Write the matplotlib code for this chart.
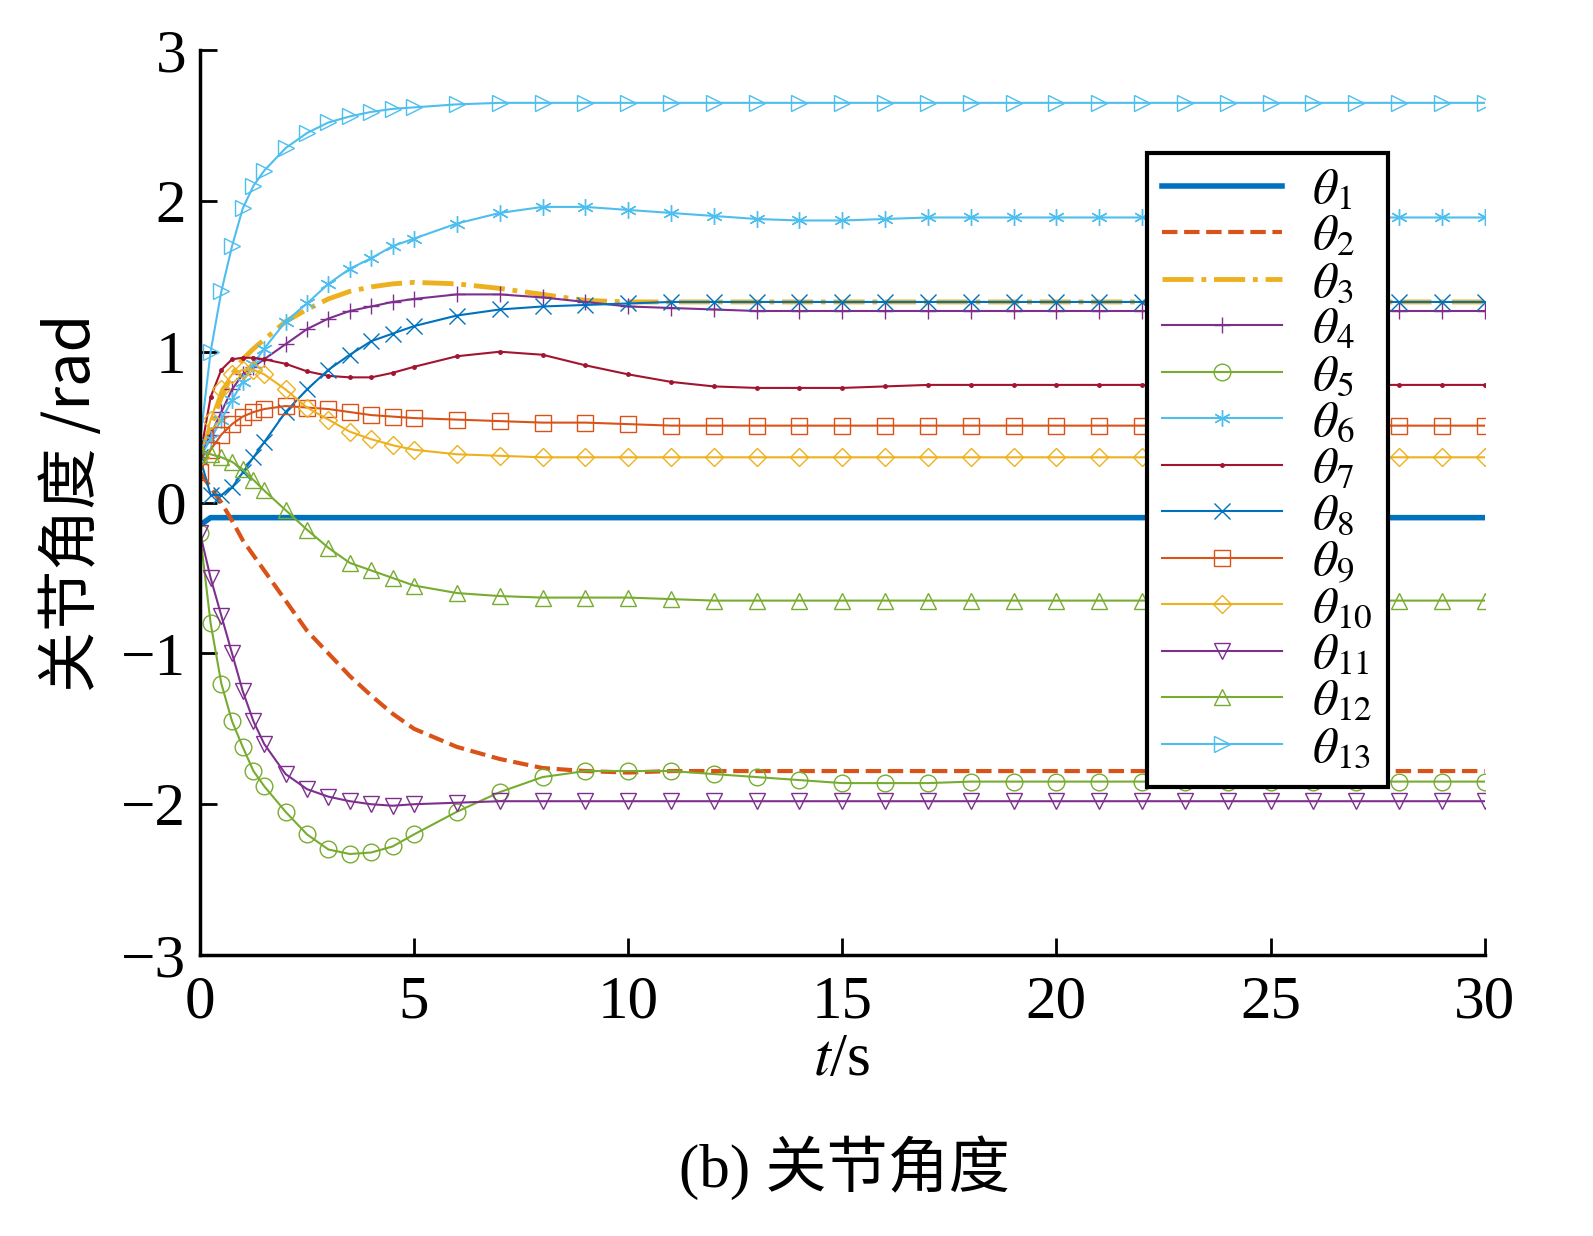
import matplotlib.pyplot as plt
import numpy as np

plt.rcParams['font.family'] = ['Liberation Serif', 'Noto Sans CJK SC']
plt.rcParams['mathtext.fontset'] = 'stix'

# common time grid
T = [0, 0.25, 0.5, 0.75, 1, 1.25, 1.5, 2, 2.5, 3, 3.5, 4, 4.5, 5] + list(range(6, 31))
n_tail = len(T)

def tail(vals, v):
    return vals + [v] * (n_tail - len(vals))

th1 = tail([-0.15], -0.1)
th2 = tail([0.2, 0.1, 0.0, -0.12, -0.25, -0.35, -0.45, -0.65, -0.85, -1.0, -1.15, -1.28, -1.4, -1.5,
            -1.62, -1.7, -1.76, -1.78, -1.79], -1.78)
th3 = tail([0.3, 0.5, 0.7, 0.85, 0.95, 1.02, 1.08, 1.2, 1.28, 1.35, 1.4, 1.43, 1.45, 1.46,
            1.45, 1.42, 1.38, 1.34, 1.33], 1.33)
th4 = tail([0.3, 0.45, 0.6, 0.75, 0.85, 0.9, 0.95, 1.05, 1.15, 1.22, 1.27, 1.3, 1.33, 1.35,
            1.38, 1.38, 1.36, 1.33, 1.3, 1.29, 1.28, 1.27], 1.27)
th5 = tail([-0.2, -0.8, -1.2, -1.45, -1.62, -1.78, -1.88, -2.05, -2.2, -2.3, -2.33, -2.32, -2.28, -2.2,
            -2.05, -1.92, -1.82, -1.78, -1.78, -1.78, -1.8, -1.82, -1.84, -1.86, -1.86, -1.86], -1.85)
th6 = tail([0.3, 0.42, 0.55, 0.68, 0.8, 0.92, 1.02, 1.2, 1.32, 1.45, 1.55, 1.62, 1.7, 1.75,
            1.85, 1.92, 1.96, 1.96, 1.94, 1.92, 1.9, 1.88, 1.87, 1.87, 1.88], 1.89)
th7 = tail([0.3, 0.7, 0.88, 0.95, 0.96, 0.96, 0.95, 0.92, 0.87, 0.84, 0.83, 0.83, 0.86, 0.9,
            0.97, 1.0, 0.98, 0.91, 0.85, 0.8, 0.77, 0.76, 0.76, 0.76, 0.77], 0.78)
th8 = tail([0.3, 0.05, 0.05, 0.1, 0.2, 0.3, 0.4, 0.6, 0.75, 0.88, 0.98, 1.07, 1.12, 1.17,
            1.24, 1.28, 1.3, 1.31, 1.32], 1.33)
th9 = tail([0.2, 0.35, 0.45, 0.52, 0.57, 0.6, 0.62, 0.64, 0.63, 0.62, 0.6, 0.58, 0.57, 0.56,
            0.55, 0.54, 0.53, 0.53, 0.52], 0.51)
th10 = tail([0.3, 0.55, 0.75, 0.85, 0.88, 0.88, 0.85, 0.75, 0.63, 0.55, 0.47, 0.42, 0.38, 0.35,
             0.32, 0.31], 0.3)
th11 = tail([-0.2, -0.5, -0.75, -1.0, -1.25, -1.45, -1.6, -1.8, -1.9, -1.95, -1.98, -2.0, -2.01, -2.0,
             -1.99], -1.98)
th12 = tail([0.35, 0.32, 0.3, 0.27, 0.22, 0.15, 0.08, -0.05, -0.18, -0.3, -0.4, -0.45, -0.5, -0.55,
             -0.6, -0.62, -0.63, -0.63, -0.63, -0.64], -0.65)
th13 = tail([0.4, 1.0, 1.4, 1.7, 1.95, 2.1, 2.2, 2.35, 2.45, 2.52, 2.56, 2.59, 2.61, 2.62,
             2.64], 2.65)

series = [th1, th2, th3, th4, th5, th6, th7, th8, th9, th10, th11, th12, th13]
colors = ['#0072BD', '#D95319', '#EDB120', '#7E2F8E', '#77AC30', '#4DBEEE', '#A2142F',
          '#0072BD', '#D95319', '#EDB120', '#7E2F8E', '#77AC30', '#4DBEEE']
styles = [('-', None, 4), ('--', None, 3), ('-.', None, 3.5), ('-', '+', 1.5), ('-', 'o', 1.5),
          ('-', (6, 2, 0), 1.5), ('-', '.', 1.5), ('-', 'x', 1.5), ('-', 's', 1.5), ('-', 'D', 1.5),
          ('-', 'v', 1.5), ('-', '^', 1.5), ('-', '>', 1.5)]

fig = plt.figure(figsize=(15.93, 12.36), dpi=100)
ax = fig.add_axes([0.1255, 0.2273, 0.8065, 0.7322])
for i, (y, c, (ls, mk, lw)) in enumerate(zip(series, colors, styles)):
    ax.plot(T, y, color=c, linestyle=ls, marker=mk, lw=lw,
            markersize=9 if mk == 'D' else (5 if mk == '.' else 12),
            markerfacecolor='none' if mk in ('o', 's', 'D', 'v', '^', '>') else c,
            label=r'$\theta_{%d}$' % (i + 1))

ax.set_xlim(0, 30)
ax.set_ylim(-3, 3)
ax.set_xticks([0, 5, 10, 15, 20, 25, 30])
ax.set_yticks([-3, -2, -1, 0, 1, 2, 3])
ax.set_yticklabels(['\u22123', '\u22122', '\u22121', '0', '1', '2', '3'])
ax.tick_params(direction='in', labelsize=44, width=2, length=12)
ax.tick_params(axis='x', pad=14)
ax.tick_params(axis='y', pad=10)
for s in ['top', 'right']:
    ax.spines[s].set_visible(False)
for s in ['left', 'bottom']:
    ax.spines[s].set_linewidth(2.5)
ax.set_xlabel(r'$t$/s', fontsize=44, labelpad=2)
ax.set_ylabel('关节角度 /rad', fontsize=44, family=['Noto Sans CJK SC', 'Liberation Serif'], labelpad=12)
leg = ax.legend(loc='upper left', bbox_to_anchor=(0.718, 0.914), fontsize=36, fancybox=False,
                edgecolor='black', framealpha=1, handlelength=2.4, labelspacing=0.0, borderpad=0.3,
                handletextpad=0.6)
leg.get_frame().set_linewidth(3)
fig.text(0.53, 0.04, '(b) 关节角度', fontsize=44, ha='center',
         family=['Liberation Serif', 'Noto Sans CJK SC'])
fig.savefig('out.png')
